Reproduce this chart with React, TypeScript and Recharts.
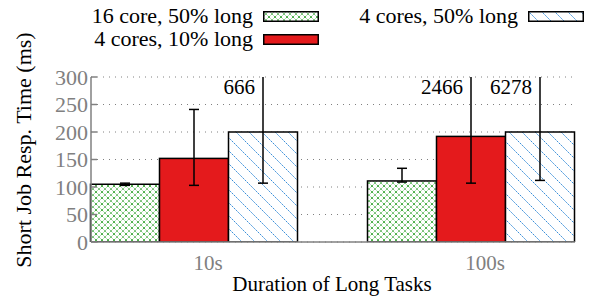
import React from 'react';
import { BarChart, Bar, XAxis, YAxis, CartesianGrid, LabelList, Label } from 'recharts';

const FONT = '"Liberation Serif", "Times New Roman", Times, Tinos, "DejaVu Serif", serif';
const GRAY = '#808080';

// Data
const categories = ['10s', '100s'];
const core16Long50 = [105, 111];
const core4Long10 = [152, 192];
const core4Long50 = [200, 200];
// error ranges [low, high]
const core16Long50Err = [[103, 107], [109, 134]];
const core4Long10Err = [[103, 241], [107, 2466]];
const core4Long50Err = [[107, 666], [112, 6278]];
const yTicks = [0, 50, 100, 150, 200, 250, 300];
const Y_MAX = 300;

const data = categories.map((c, i) => ({
  name: c,
  a: core16Long50[i],
  b: core4Long10[i],
  c: core4Long50[i],
  bTop: core4Long10Err[i][1] > Y_MAX ? String(core4Long10Err[i][1]) : '',
  cTop: core4Long50Err[i][1] > Y_MAX ? String(core4Long50Err[i][1]) : '',
}));

const series = [
  { key: 'a', name: '16 core, 50% long', fill: 'url(#greenHatch)', values: core16Long50, errs: core16Long50Err },
  { key: 'b', name: '4 cores, 10% long', fill: '#e41a1c', top: 'bTop', values: core4Long10, errs: core4Long10Err },
  { key: 'c', name: '4 cores, 50% long', fill: 'url(#blueHatch)', top: 'cTop', values: core4Long50, errs: core4Long50Err },
];

function Patterns({ suffix = '' }: { suffix?: string }) {
  return (
    <defs>
      <pattern id={`greenHatch${suffix}`} width="6" height="6" patternUnits="userSpaceOnUse">
        <rect width="6" height="6" fill="#fff" />
        <path d="M0,0 L6,6 M6,0 L0,6" stroke="#4caf4a" strokeWidth="1" strokeDasharray="1.5 0.8" />
      </pattern>
      <pattern id={`blueHatch${suffix}`} width="13" height="13" patternUnits="userSpaceOnUse">
        <rect width="13" height="13" fill="#fff" />
        <path d="M0,0 L13,13 M-1,12 L1,14 M12,-1 L14,1" stroke="#3a8fd9" strokeWidth="1" strokeDasharray="2 1" />
      </pattern>
    </defs>
  );
}

// bar with its asymmetric error bar, clipped at the top of the y range
function barShape(values: number[], errs: number[][]) {
  return (props: any) => {
    const { x, y, width, height, index, fill } = props;
    const v = values[index];
    const scale = height / v;
    const base = y + height;
    const [lo, hi] = errs[index];
    const yLo = base - lo * scale;
    const yHi = base - Math.min(hi, Y_MAX) * scale;
    const cx = x + width / 2;
    return (
      <g>
        <rect x={x} y={y} width={width} height={height} fill={fill} stroke="#000" strokeWidth={1.5} />
        <line x1={cx} x2={cx} y1={yLo} y2={yHi} stroke="#000" strokeWidth={1.5} />
        <line x1={cx - 5} x2={cx + 5} y1={yLo} y2={yLo} stroke="#000" strokeWidth={1.5} />
        {hi <= Y_MAX && <line x1={cx - 5} x2={cx + 5} y1={yHi} y2={yHi} stroke="#000" strokeWidth={1.5} />}
      </g>
    );
  };
}

function topLabel(values: number[]) {
  return (props: any) => {
    const { x, y, width, height, value, index } = props;
    if (!value) return null;
    const v = values[index];
    const plotTop = y - ((Y_MAX - v) * height) / v;
    return (
      <text x={x + width / 2 - 8} y={plotTop + 17} textAnchor="end" fontFamily={FONT} fontSize={21} fill="#000">
        {value}
      </text>
    );
  };
}

function LegendBox() {
  const swatch = (fill: string) => (
    <svg width={56} height={11} style={{ display: 'block' }}>
      <Patterns suffix="L" />
      <rect x={0.75} y={0.75} width={54.5} height={9.5} fill={fill} stroke="#000" strokeWidth={1.5} />
    </svg>
  );
  const item = (label: string, fill: string, right: number, top: number) => (
    <div style={{ position: 'absolute', left: right - 300, top, width: 300, display: 'flex', alignItems: 'center', justifyContent: 'flex-end' }}>
      <span style={{ fontFamily: FONT, fontSize: 22, lineHeight: '22px', marginRight: 10, whiteSpace: 'nowrap' }}>{label}</span>
      {swatch(fill)}
    </div>
  );
  return (
    <div style={{ position: 'absolute', left: 0, top: 0, width: 591, height: 50 }}>
      {item(series[0].name, 'url(#greenHatchL)', 319, 5)}
      {item(series[1].name, '#e41a1c', 319, 28)}
      {item(series[2].name, 'url(#blueHatchL)', 584, 5)}
    </div>
  );
}

const YTick = (props: any) => {
  const { x, y, payload } = props;
  return (
    <text x={x} y={y} dy="0.36em" textAnchor="end" fontFamily={FONT} fontSize={22} fill={GRAY}>
      {payload.value}
    </text>
  );
};

const XTick = (props: any) => {
  const { x, y, payload } = props;
  return (
    <text x={x + 14} y={y + 20} textAnchor="middle" fontFamily={FONT} fontSize={21} fill={GRAY}>
      {payload.value}
    </text>
  );
};

export default function App() {
  return (
    <div style={{ position: 'absolute', left: 0, top: 0, width: 591, height: 300, background: '#fff' }}>
      <BarChart
        width={591}
        height={300}
        data={data}
        margin={{ top: 77, right: 16, bottom: 28, left: 0 }}
        barCategoryGap={35}
        barGap={0}
      >
        <Patterns />
        <CartesianGrid vertical={false} stroke={GRAY} strokeDasharray="1 5" strokeWidth={1} />
        <XAxis
          dataKey="name"
          padding={{ left: -35.5, right: -34.5 }}
          axisLine={{ stroke: GRAY, strokeWidth: 1.5 }}
          tickLine={false}
          tick={<XTick />}
          height={30}
        >
          <Label
            content={() => (
              <text x={332} y={291} textAnchor="middle" fontFamily={FONT} fontSize={21} fill="#000">
                Duration of Long Tasks
              </text>
            )}
          />
        </XAxis>
        <YAxis
          width={91}
          domain={[0, Y_MAX]}
          ticks={yTicks}
          interval={0}
          allowDataOverflow
          axisLine={{ stroke: GRAY, strokeWidth: 1.5 }}
          tickLine={{ stroke: GRAY, strokeWidth: 1.5 }}
          tickSize={-6}
          tickMargin={9}
          tick={<YTick />}
        >
          <Label
            content={() => (
              <text
                x={0}
                y={0}
                transform="translate(23,150) rotate(-90)"
                textAnchor="middle"
                dominantBaseline="central"
                fontFamily={FONT}
                fontSize={22}
                fill="#000"
              >
                Short Job Resp. Time (ms)
              </text>
            )}
          />
        </YAxis>
        {series.map((s) => (
          <Bar
            key={s.key}
            dataKey={s.key}
            name={s.name}
            fill={s.fill}
            shape={barShape(s.values, s.errs)}
            isAnimationActive={false}
          >
            {s.top && <LabelList dataKey={s.top} content={topLabel(s.values)} />}
          </Bar>
        ))}
      </BarChart>
      <LegendBox />
    </div>
  );
}
